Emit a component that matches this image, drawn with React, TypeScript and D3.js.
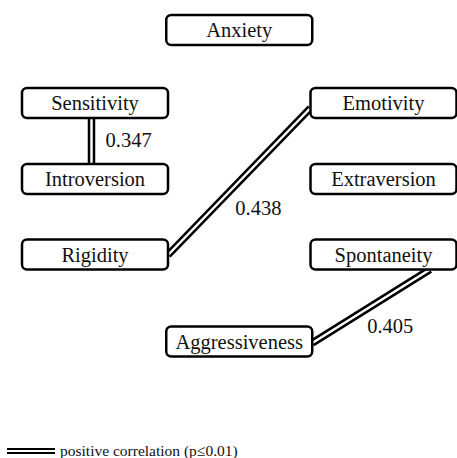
import React, { useEffect, useRef } from 'react'
import * as d3 from 'd3'

// traits and the grid cell each one sits in
const traits = ['Anxiety', 'Sensitivity', 'Emotivity', 'Introversion', 'Extraversion', 'Rigidity', 'Spontaneity', 'Aggressiveness']
const traitCols = ['middle', 'left', 'right', 'left', 'right', 'left', 'right', 'middle']
const traitRows = [0, 1, 1, 2, 2, 3, 3, 4]

// significant correlations
const edgeFrom = ['Sensitivity', 'Rigidity', 'Aggressiveness']
const edgeTo = ['Introversion', 'Emotivity', 'Spontaneity']
const edgeValues = [0.347, 0.438, 0.405]

const legendLabel = 'positive correlation (p≤0.01)'

const W = 457
const H = 458
const BOX_W = 146
const BOX_H = 30
const FONT = '"Liberation Serif", "Times New Roman", serif'

function App() {
  const svgEl = useRef<SVGSVGElement>(null)

  useEffect(() => {
    document.body.style.margin = '0'
    const svg = d3.select(svgEl.current)
    svg.selectAll('*').remove()

    const x = d3.scalePoint<string>().domain(['left', 'middle', 'right']).range([95, 383.5])
    const y = d3.scaleOrdinal<number, number>().domain([0, 1, 2, 3, 4]).range([30, 103, 179, 254.5, 341.5])

    const nodes = traits.map((name, i) => ({ name, cx: x(traitCols[i])!, cy: y(traitRows[i]) }))
    const byName = new Map(nodes.map(n => [n.name, n]))

    // where each link leaves / enters its boxes
    const anchors: [number, number, number, number][] = [
      [-3.5, BOX_H / 2, -3.5, -BOX_H / 2],
      [BOX_W / 2, 0.5, -BOX_W / 2, 5],
      [BOX_W / 2, 1.5, 46.5, BOX_H / 2]
    ]
    const labelShift: [number, number][] = [[14, 6], [-4, 33], [-4, 27]]

    const links = edgeFrom.map((f, i) => {
      const a = byName.get(f)!
      const b = byName.get(edgeTo[i])!
      const [ax, ay, bx, by] = anchors[i]
      return { x1: a.cx + ax, y1: a.cy + ay, x2: b.cx + bx, y2: b.cy + by, value: edgeValues[i] }
    })

    const line = d3.line()
    const gLinks = svg.append('g')
    links.forEach((l, i) => {
      const d = line([[l.x1, l.y1], [l.x2, l.y2]])
      gLinks.append('path').attr('d', d).attr('stroke', '#000').attr('stroke-width', 7.5).attr('fill', 'none')
      gLinks.append('path').attr('d', d).attr('stroke', '#fff').attr('stroke-width', 2.5).attr('fill', 'none')
      gLinks.append('text')
        .attr('x', (l.x1 + l.x2) / 2 + labelShift[i][0])
        .attr('y', (l.y1 + l.y2) / 2 + labelShift[i][1])
        .attr('font-family', FONT)
        .attr('font-size', 20.5)
        .attr('fill', '#111')
        .text(d3.format('.3f')(l.value))
    })

    const gNodes = svg.append('g').selectAll('g').data(nodes).join('g')
      .attr('transform', d => `translate(${d.cx},${d.cy})`)
    gNodes.append('rect')
      .attr('x', -BOX_W / 2).attr('y', -BOX_H / 2)
      .attr('width', BOX_W).attr('height', BOX_H)
      .attr('rx', 5).attr('ry', 5)
      .attr('fill', '#fff').attr('stroke', '#000').attr('stroke-width', 2.5)
    gNodes.append('text')
      .attr('text-anchor', 'middle')
      .attr('y', 7)
      .attr('font-family', FONT)
      .attr('font-size', 20.5)
      .attr('fill', '#111')
      .text(d => d.name)

    // legend
    const lg = svg.append('g').attr('transform', 'translate(0,451)')
    lg.append('line').attr('x1', 7).attr('x2', 55).attr('stroke', '#000').attr('stroke-width', 6)
    lg.append('line').attr('x1', 7).attr('x2', 55).attr('stroke', '#fff').attr('stroke-width', 2)
    lg.append('text').attr('x', 60).attr('y', 4.5)
      .attr('font-family', FONT).attr('font-size', 15.5).attr('fill', '#111')
      .text(legendLabel)
  }, [])

  return <svg ref={svgEl} width={W} height={H} style={{ display: 'block', background: '#fff' }} />
}

export default App
